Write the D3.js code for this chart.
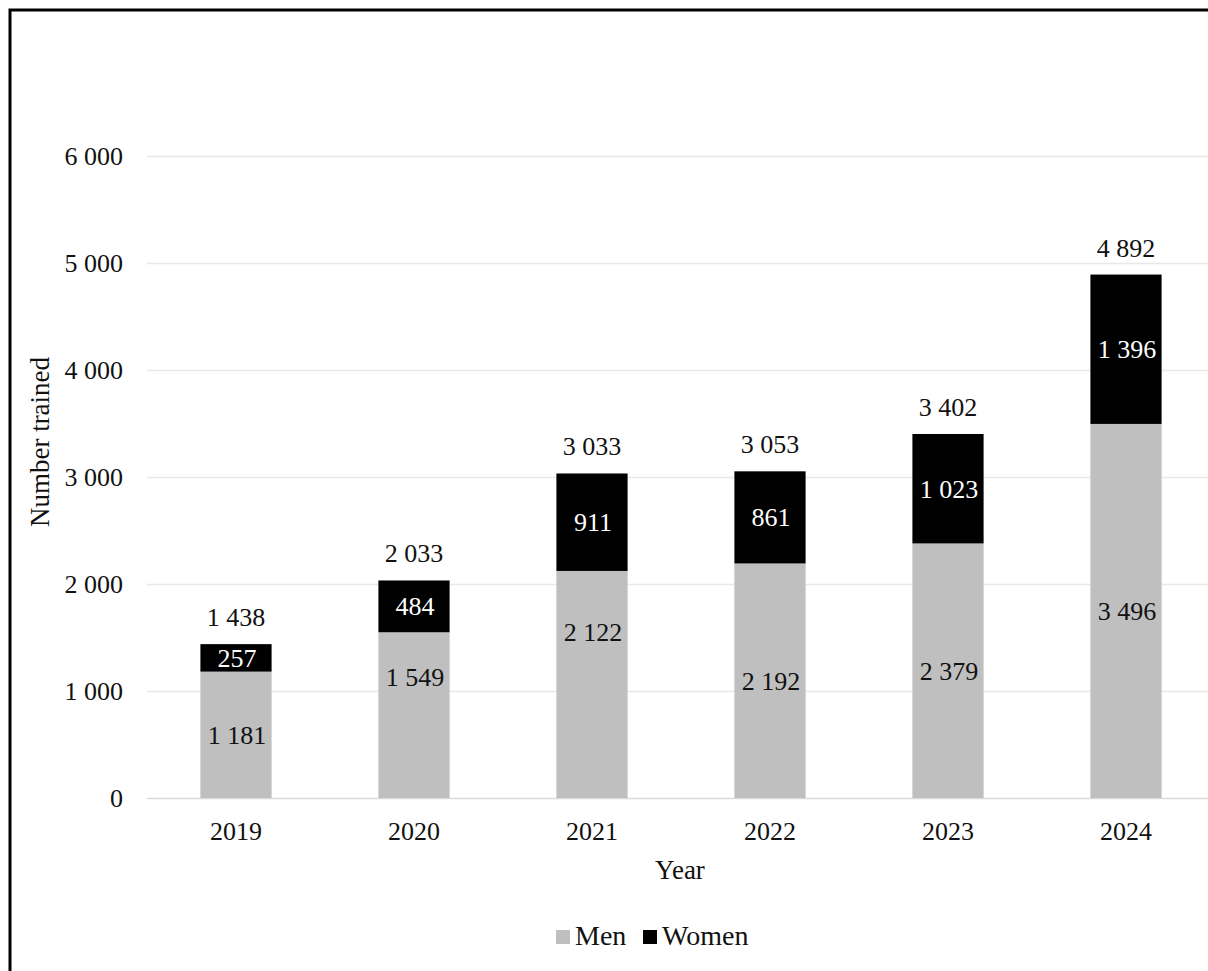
<!DOCTYPE html>
<html>
<head>
<meta charset="utf-8">
<script src="https://cdn.jsdelivr.net/npm/d3@7"></script>
<style>
  body { margin: 0; background: #fff; }
  svg text { font-family: "Liberation Serif", "Times New Roman", serif; fill: #111; }
</style>
</head>
<body>
<div id="chart"></div>
<script>
// data
const years = ["2019", "2020", "2021", "2022", "2023", "2024"];
const men = [1181, 1549, 2122, 2192, 2379, 3496];
const women = [257, 484, 911, 861, 1023, 1396];
const totals = [1438, 2033, 3033, 3053, 3402, 4892];
// a few men labels were moved by hand in the original (value where label sits)
const menLabelAt = [null, 1130, 1550, null, null, null];
const yTicks = [0, 1000, 2000, 3000, 4000, 5000, 6000];

const W = 1208, H = 971;
const margin = { top: 156, left: 147, bottom: 173 }; // baseline at 798
const plotRight = 1215;

const loc = d3.formatLocale({ decimal: ".", thousands: "\u00a0", grouping: [3], currency: ["", ""] });
const fmt = loc.format(",d");

const svg = d3.select("#chart").append("svg")
    .attr("width", W)
    .attr("height", H);

svg.append("rect")
    .attr("x", 10).attr("y", 10)
    .attr("width", 1300).attr("height", 1100)
    .attr("fill", "none")
    .attr("stroke", "#000")
    .attr("stroke-width", 3);

const x = d3.scaleBand()
    .domain(years)
    .range([margin.left, plotRight])
    .paddingInner(0.6)
    .paddingOuter(0.3);

const y = d3.scaleLinear()
    .domain([0, 6000])
    .range([H - margin.bottom, margin.top]);

// gridlines
svg.append("g")
    .selectAll("line")
    .data(yTicks)
    .join("line")
    .attr("x1", margin.left)
    .attr("x2", plotRight)
    .attr("y1", d => Math.round(y(d)) + 0.5)
    .attr("y2", d => Math.round(y(d)) + 0.5)
    .attr("stroke", d => d === 0 ? "#d9d9d9" : "#e8e8e8")
    .attr("stroke-width", 1.3);

// y axis labels
svg.append("g")
    .selectAll("text")
    .data(yTicks)
    .join("text")
    .attr("x", 123)
    .attr("y", d => y(d))
    .attr("dy", "0.35em")
    .attr("text-anchor", "end")
    .style("font-size", "26px")
    .text(d => fmt(d));

// x axis labels
svg.append("g")
    .selectAll("text")
    .data(years)
    .join("text")
    .attr("x", d => x(d) + x.bandwidth() / 2)
    .attr("y", 840)
    .attr("text-anchor", "middle")
    .style("font-size", "26px")
    .text(d => d);

// axis titles
svg.append("text")
    .attr("x", 680)
    .attr("y", 879)
    .attr("text-anchor", "middle")
    .style("font-size", "27px")
    .text("Year");

svg.append("text")
    .attr("transform", "translate(49,442) rotate(-90)")
    .attr("text-anchor", "middle")
    .style("font-size", "27px")
    .text("Number trained");

// bars
const rows = years.map((yr, i) => ({ yr, men: men[i], women: women[i], total: totals[i], menAt: menLabelAt[i] }));

svg.append("g").selectAll("rect")
    .data(rows)
    .join("rect")
    .attr("x", d => x(d.yr))
    .attr("width", x.bandwidth())
    .attr("y", d => y(d.men))
    .attr("height", d => y(0) - y(d.men))
    .attr("fill", "#bfbfbf");

svg.append("g").selectAll("rect")
    .data(rows)
    .join("rect")
    .attr("x", d => x(d.yr))
    .attr("width", x.bandwidth())
    .attr("y", d => y(d.men + d.women))
    .attr("height", d => y(d.men) - y(d.men + d.women))
    .attr("fill", "#000");

// value labels
svg.append("g").selectAll("text")
    .data(rows)
    .join("text")
    .attr("x", d => x(d.yr) + x.bandwidth() / 2 + 1)
    .attr("y", d => y(d.menAt != null ? d.menAt : d.men / 2))
    .attr("dy", "0.35em")
    .attr("text-anchor", "middle")
    .style("font-size", "26px")
    .text(d => fmt(d.men));

svg.append("g").selectAll("text")
    .data(rows)
    .join("text")
    .attr("x", d => x(d.yr) + x.bandwidth() / 2 + 1)
    .attr("y", d => y(d.men + d.women / 2))
    .attr("dy", "0.35em")
    .attr("text-anchor", "middle")
    .style("font-size", "26px")
    .style("fill", "#fff")
    .text(d => fmt(d.women));

svg.append("g").selectAll("text")
    .data(rows)
    .join("text")
    .attr("x", d => x(d.yr) + x.bandwidth() / 2)
    .attr("y", d => y(d.total) - 18)
    .attr("text-anchor", "middle")
    .style("font-size", "26px")
    .text(d => fmt(d.total));

// legend
const legend = [{ name: "Men", color: "#bfbfbf", x: 556 }, { name: "Women", color: "#000", x: 643 }];
const lg = svg.append("g").selectAll("g")
    .data(legend)
    .join("g")
    .attr("transform", d => `translate(${d.x},930)`);
lg.append("rect")
    .attr("width", 14).attr("height", 14)
    .attr("fill", d => d.color);
lg.append("text")
    .attr("x", 19)
    .attr("y", 15)
    .style("font-size", "28px")
    .text(d => d.name);
</script>
</body>
</html>
